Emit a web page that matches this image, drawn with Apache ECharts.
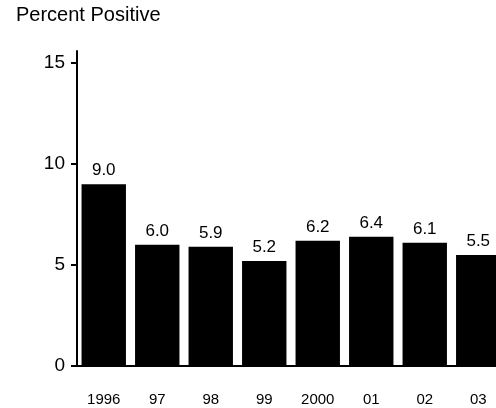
<!DOCTYPE html>
<html><head><meta charset="utf-8">
<script src="https://cdn.jsdelivr.net/npm/echarts@6/dist/echarts.min.js"></script>
<style>html,body{margin:0;padding:0;background:#fff}#c{width:496px;height:408px}</style>
</head><body><div id="c"></div>
<script>
const categories = ['1996','97','98','99','2000','01','02','03'];
const values = [9.0, 6.0, 5.9, 5.2, 6.2, 6.4, 6.1, 5.5];
const yTicks = [0, 5, 10, 15];
const titleText = 'Percent Positive';
const FONT = 'Arial, "Liberation Sans", sans-serif';

const chart = echarts.init(document.getElementById('c'), null, {renderer: 'canvas'});
chart.setOption({
  animation: false,
  backgroundColor: '#fff',
  title: {
    text: titleText, left: 11, top: 0,
    textStyle: {fontFamily: FONT, fontSize: 20, fontWeight: 'normal', color: '#000'}
  },
  grid: {left: 77, top: 51, bottom: 42, width: 428, containLabel: false, outerBoundsMode: 'none'},
  xAxis: {
    type: 'category', data: categories,
    axisLine: {show: true, lineStyle: {color: '#000', width: 2}},
    axisTick: {show: false},
    axisLabel: {color: '#000', fontFamily: FONT, fontSize: 15, margin: 26},
    splitLine: {show: false}
  },
  yAxis: {
    type: 'value', min: 0, max: 15.6, interval: 5,
    axisLine: {show: true, lineStyle: {color: '#000', width: 2}},
    axisTick: {show: true, length: 6, lineStyle: {color: '#000', width: 2}, customValues: yTicks},
    axisLabel: {color: '#000', fontFamily: FONT, fontSize: 19, margin: 12, customValues: yTicks},
    splitLine: {show: false}
  },
  series: [{
    type: 'bar', data: values, barCategoryGap: '17%',
    itemStyle: {color: '#000'},
    label: {
      show: true, position: 'top', distance: 5,
      formatter: p => p.value.toFixed(1),
      color: '#000', fontFamily: FONT, fontSize: 17
    }
  }]
});
</script></body></html>
